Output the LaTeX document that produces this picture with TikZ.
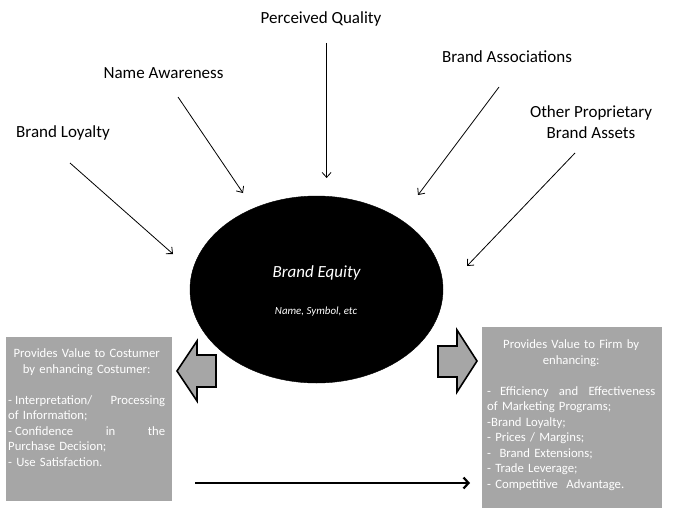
\documentclass[tikz,border=0pt]{standalone}
\usepackage{fontspec}
\setmainfont{Carlito}
\usetikzlibrary{shapes.geometric,arrows.meta}
\definecolor{boxgray}{HTML}{A6A6A6}
\tikzset{
  lbl/.style={font=\fontsize{17}{20}\selectfont, align=center, inner sep=0pt},
  thinarrow/.style={draw=black, line width=0.8pt, -{Straight Barb[length=5pt,width=9pt,line width=0.8pt]}},
  graybox/.style={draw=none, fill=boxgray, inner sep=0pt},
  boxtext/.style={font=\fontsize{12.7}{15.5}\selectfont, text=white, align=left, inner sep=0pt, anchor=north west},
  blockarrow/.style={draw=black, line width=1.6pt, fill=boxgray, line join=miter},
}
\newcommand{\myCline}[1]{\makebox[\linewidth][c]{#1}}
\newcommand{\myJline}[1]{{\spaceskip=0pt\relax\xspaceskip=0pt\relax\makebox[\linewidth][s]{#1}}}
\newcommand{\myLline}[1]{\makebox[\linewidth][l]{#1}}
\begin{document}
\begin{tikzpicture}[x=1pt,y=-1pt]
\useasboundingbox (0,0) rectangle (682,511);
% labels
\node[lbl] (pq) at (321,19) {Perceived Quality};
\node[lbl] (na) at (163.5,73) {Name Awareness};
\node[lbl] (bl) at (63,133) {Brand Loyalty};
\node[lbl] (ba) at (507,57) {Brand Associations};
\node[lbl, font=\fontsize{17}{21}\selectfont] (op) at (591,122.5) {Other Proprietary\\Brand Assets};
% ellipse
\node[ellipse, fill=black, draw=black, minimum width=253pt, minimum height=187pt, inner sep=0pt] (eq) at (316.5,289.5) {};
\node[font=\fontsize{17}{20}\itshape, text=white, inner sep=0pt] (eqt) at (316.5,273) {Brand Equity};
\node[font=\fontsize{10.9}{13}\itshape, text=white, inner sep=0pt] (eqs) at (316,312) {Name, Symbol, etc};
% arrow coordinates
\coordinate (pqa) at (326.6,43);
\coordinate (pqb) at (326.6,178);
\coordinate (naa) at (178,97);
\coordinate (nab) at (243,193);
\coordinate (bla) at (70,163);
\coordinate (blb) at (173,254);
\coordinate (baa) at (499,87);
\coordinate (bab) at (418,195);
\coordinate (opa) at (575,153);
\coordinate (opb) at (467,266);
\draw[thinarrow] (pqa) -- (pqb);
\draw[thinarrow] (naa) -- (nab);
\draw[thinarrow] (bla) -- (blb);
\draw[thinarrow] (baa) -- (bab);
\draw[thinarrow] (opa) -- (opb);
% boxes
\node[graybox, minimum width=166pt, minimum height=164pt, anchor=north west] (lbox) at (6,337) {};
\node[graybox, minimum width=180pt, minimum height=181pt, anchor=north west] (rbox) at (482,327) {};
\node[boxtext, text width=157pt] (ltext) at (8,348.5) {%
\myCline{Provides Value to Costumer}\\
\myCline{by enhancing Costumer:}\\
\mbox{}\\
\myJline{-\kern3pt Interpretation/ Processing}\\
\myLline{of Information;}\\
\myJline{-\kern3pt Confidence in the}\\
\myLline{Purchase Decision;}\\
\myLline{- Use Satisfaction.}};
\node[boxtext, text width=168pt] (rtext) at (487,339.5) {%
\myCline{Provides Value to Firm by}\\
\myCline{enhancing:}\\
\mbox{}\\
\myJline{-\kern9pt Efficiency and Effectiveness}\\
\myLline{of Marketing Programs;}\\
\myLline{-Brand Loyalty;}\\
\myLline{- Prices / Margins;}\\
\myLline{-\ \ Brand Extensions;}\\
\myLline{- Trade Leverage;}\\
\myLline{- Competitive\ \ Advantage.}};
% block arrows
\draw[blockarrow] (177,371) -- (197,341) -- (197,355) -- (216,355) -- (216,387) -- (197,387) -- (197,401) -- cycle;
\draw[blockarrow] (477,361) -- (457,330) -- (457,346) -- (438,346) -- (438,377) -- (457,377) -- (457,392) -- cycle;
% bottom arrow
\coordinate (bota) at (195,483);
\coordinate (botb) at (470,483);
\draw[line width=2.6pt, -{Straight Barb[length=5pt,width=11pt,line width=2.2pt]}] (bota) -- (botb);
\end{tikzpicture}
\end{document}
